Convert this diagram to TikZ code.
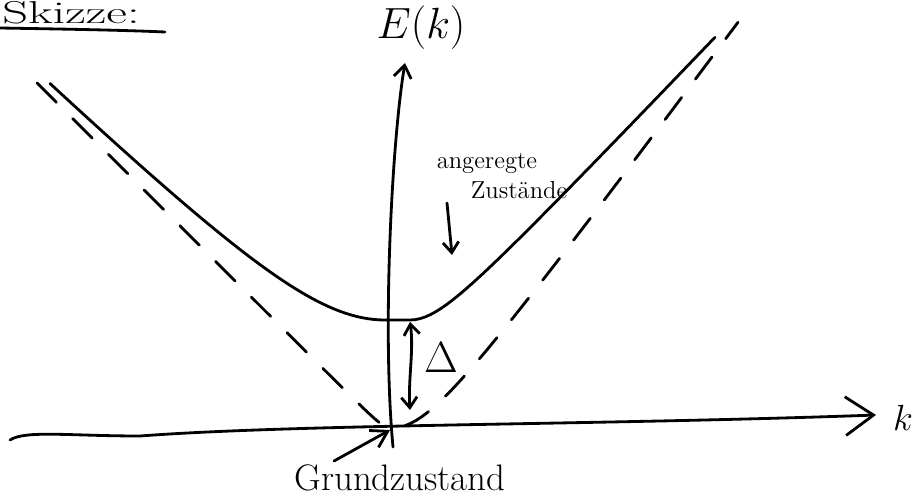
\documentclass[tikz,border=0pt]{standalone}
\usetikzlibrary{arrows.meta}
\tikzset{
  hand/.style={line width=1.6pt, line cap=round, line join=round},
  dashhand/.style={hand, dash pattern=on 0.55cm off 0.46cm},
  axisarrow/.style={hand, -{Straight Barb[length=16pt, width=22pt]}},
  smallarrow/.style={hand, -{Straight Barb[length=6pt, width=9pt]}},
  gaparrow/.style={hand, {Straight Barb[length=6pt, width=9pt]}-{Straight Barb[length=6pt, width=9pt]}},
  lbl/.style={inner sep=0pt}
}
\begin{document}
\begin{tikzpicture}[x=0.02cm, y=-0.02cm]
  \useasboundingbox (0,0) rectangle (920,500);
  \clip (0,0) rectangle (920,500);

  % heading
  \node[lbl, anchor=base west, font=\fontsize{18}{20}\selectfont] (sk) at (2,24) {\scalebox{1.6}[1]{Skizze:}};
  \draw[hand] (0,28) .. controls (60,29) and (120,30) .. (165,32);

  % labels
  \node[lbl, font=\fontsize{24}{26}\selectfont] (Elbl) at (421,28) {$E(k)$};
  \node[lbl, font=\fontsize{22}{24}\selectfont] (klbl) at (903,418) {$k$};
  \node[lbl, font=\fontsize{14}{16}\selectfont] (ang1) at (487,163) {angeregte};
  \node[lbl, font=\fontsize{14}{16}\selectfont] (ang2) at (519,190) {Zustände};
  \node[lbl, font=\fontsize{24}{26}\selectfont] (dlt) at (441,358) {$\Delta$};
  \node[lbl, font=\fontsize{21}{24}\selectfont] (gz) at (400,478) {Grundzustand};

  % axes
  \coordinate (Ebot) at (393,447);
  \coordinate (Etop) at (405,63);
  \coordinate (kL) at (10,440);
  \coordinate (kR) at (876,415);
  \draw[hand, -{Straight Barb[length=7pt, width=10pt]}] (Ebot) .. controls (382,330) and (392,140) .. (Etop);
  \draw[axisarrow] (kL) .. controls (25,430) and (70,436) .. (140,436) .. controls (300,424) and (600,425) .. (kR);

  % excited band (solid) with gap
  \draw[hand] plot[domain=50:385, samples=60] (\x, {320 - (100*sqrt(1.05^2 + (0.97*(385-\x)/100)^2) - 105)})
    -- plot[domain=410:715, samples=60] (\x, {320 - (100*sqrt(0.4^2 + (1.05*(\x-410)/100)^2) - 40)});

  % gapless band (dashed)
  \draw[dashhand] plot[domain=37:388, samples=60] (\x, {428 - (100*sqrt(0.08^2 + ((390-\x)/100)^2) - 8)});
  \draw[dashhand] plot[domain=405:738, samples=60] (\x, {428 - (100*sqrt(0.66^2 + (1.35*(\x-392)/100)^2) - 66)});

  % arrows
  \coordinate (gapTop) at (410,322);
  \coordinate (gapBot) at (410,410);
  \draw[gaparrow] (gapTop) .. controls (414,350) and (408,380) .. (gapBot);
  \coordinate (gzTail) at (334,461);
  \coordinate (O) at (390,430);
  \draw[hand, -{Straight Barb[length=9pt, width=11pt]}] (gzTail) -- (O);
  \coordinate (angTail) at (447,203);
  \coordinate (angTip) at (452,255);
  \draw[smallarrow] (angTail) -- (angTip);
\end{tikzpicture}
\end{document}
